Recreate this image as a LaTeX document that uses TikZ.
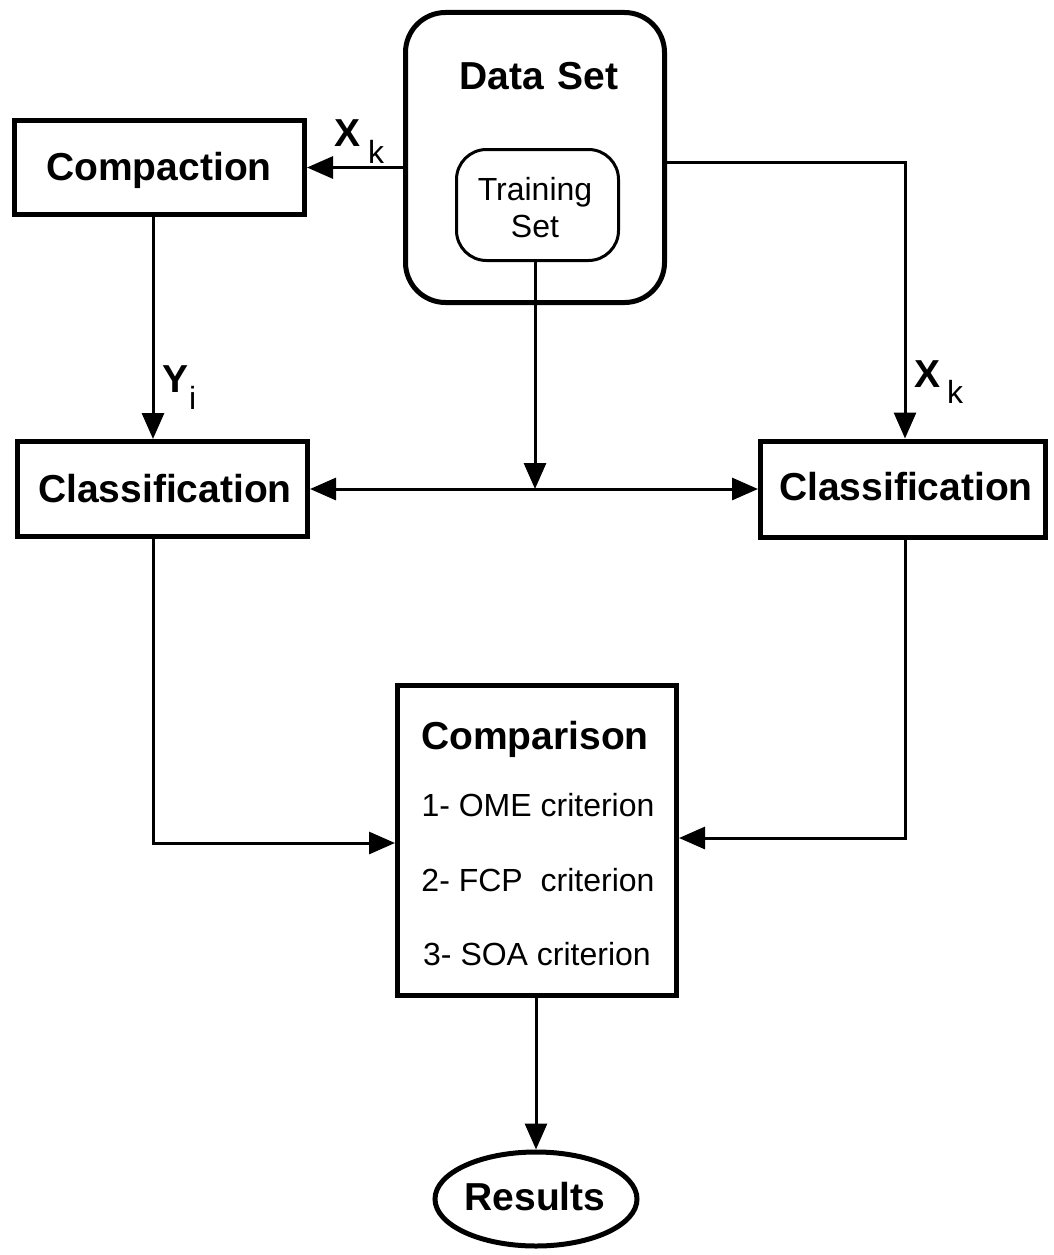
\documentclass[tikz,border=0pt]{standalone}
\usepackage{fontspec}
\setmainfont{Liberation Sans}
\usetikzlibrary{arrows.meta,shapes.geometric}
\begin{document}
\begin{tikzpicture}[x=1pt,y=-1pt,
  box/.style={draw,line width=5pt,inner sep=0pt,rectangle},
  big/.style={font=\fontsize{39}{44}\selectfont\bfseries},
  reg/.style={font=\fontsize{32}{37}\selectfont},
  lbl/.style={inner sep=0pt,anchor=base west},
  conn/.style={line width=3pt},
  arr/.style={conn,-{Triangle[length=26pt,width=22pt]}},
  darr/.style={conn,{Triangle[length=26pt,width=22pt]}-{Triangle[length=26pt,width=22pt]}}]
\useasboundingbox (0,0) rectangle (1054,1255);
% boxes
\node[box,rounded corners=40pt,minimum width=259pt,minimum height=290pt] (ds) at (535,157.5) {};
\node[big,inner sep=0pt,anchor=base] (dst) at (539,89) {Data\hspace{14pt}Set};
\node[draw,line width=3pt,rounded corners=30pt,minimum width=162pt,minimum height=111pt,inner sep=0pt] (ts) at (537.5,205) {};
\node[reg,inner sep=0pt,anchor=base] (tst1) at (535,200) {Training};
\node[reg,inner sep=0pt,anchor=base] (tst2) at (535,237) {Set};
\node[box,minimum width=290pt,minimum height=94pt] (comp) at (159.5,167.5) {};
\node[big,inner sep=0pt,anchor=base] (compt) at (159,180) {Compaction};
\node[box,minimum width=290pt,minimum height=95pt] (clsL) at (162.5,489) {};
\node[big,inner sep=0pt,anchor=base] (clsLt) at (165,502) {Classification};
\node[box,minimum width=285pt,minimum height=96pt] (clsR) at (903,489) {};
\node[big,inner sep=0pt,anchor=base] (clsRt) at (906,500) {Classification};
\node[box,minimum width=279pt,minimum height=310pt] (cmp) at (537,840.5) {};
\node[big,inner sep=0pt,anchor=base] (cmp0) at (535,749) {Comparison};
\node[reg,inner sep=0pt,anchor=base] (cmp1) at (538,816) {1- OME criterion};
\node[reg,inner sep=0pt,anchor=base] (cmp2) at (538,891) {2- FCP\hspace{9pt} criterion};
\node[reg,inner sep=0pt,anchor=base] (cmp3) at (537,965) {3- SOA criterion};
\node[draw,line width=5pt,ellipse,minimum width=202pt,minimum height=94pt,inner sep=0pt] (res) at (536,1199) {};
\node[big,inner sep=0pt,anchor=base] (rest) at (535,1210) {Results};
% labels
\node[big,lbl] (xk1) at (334,146) {X};
\node[reg,lbl] (xk1s) at (368,163) {k};
\node[big,lbl] (xk2) at (914,387) {X};
\node[reg,lbl] (xk2s) at (947,403) {k};
\node[big,lbl] (yi) at (162,392) {Y};
\node[reg,lbl] (yis) at (189,409) {i};
% helper coordinates
\coordinate (lx) at (153,0);
\coordinate (rx) at (905,0);
\coordinate (ly) at (0,843);
\coordinate (ry) at (0,838);
\coordinate (ty) at (0,162);
% connectors
\draw[arr] (ds.west |- comp.east) -- (comp.east);
\draw[arr] (comp.south -| lx) -- (clsL.north -| lx);
\draw[arr] (ds.east |- ty) -- (rx |- ty) -- (clsR.north -| rx);
\draw[arr] (ts.south -| 535,0) -- (clsL.east -| 535,0);
\draw[darr] (clsL.east) -- (clsR.west);
\draw[arr] (clsL.south -| lx) -- (lx |- ly) -- (cmp.west |- ly);
\draw[arr] (clsR.south -| rx) -- (rx |- ry) -- (cmp.east |- ry);
\draw[arr] (cmp.south -| res.north) -- (res.north);
\end{tikzpicture}
\end{document}
